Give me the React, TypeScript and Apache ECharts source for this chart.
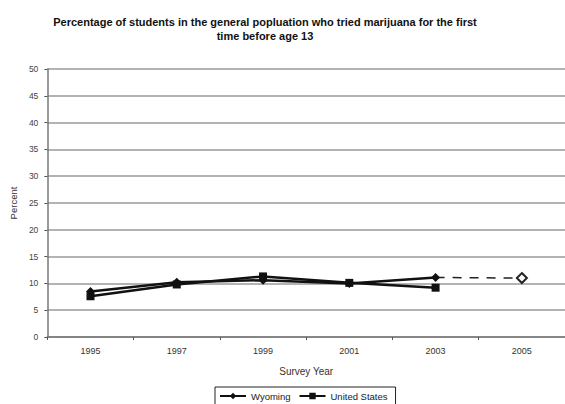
import React, { useEffect, useRef } from "react";
import * as echarts from "echarts";

const years = ["1995", "1997", "1999", "2001", "2003", "2005"];
const wyoming = [8.5, 10.2, 10.6, 10.0, 11.1, null];
const unitedStates = [7.6, 9.8, 11.3, 10.1, 9.2, null];
// 2005 projection for Wyoming, continuing from the 2003 value
const wyomingProjection = [null, null, null, null, 11.1, 11.0];

const FONT = "'Liberation Sans', Arial, sans-serif";

export default function App() {
  const ref = useRef<HTMLDivElement>(null);

  useEffect(() => {
    if (!ref.current) return;
    const chart = echarts.init(ref.current, null, { renderer: "svg" });
    chart.setOption({
      animation: false,
      backgroundColor: "#ffffff",
      title: {
        text: "Percentage of students in the general popluation who tried marijuana for the first\ntime before age 13",
        left: 260,
        textAlign: "center",
        top: 10,
        textStyle: {
          fontFamily: FONT,
          fontSize: 11,
          fontWeight: "bold",
          color: "#111",
          lineHeight: 14,
        },
      },
      legend: {
        data: ["Wyoming", "United States"],
        left: 215,
        top: 387,
        itemWidth: 26,
        itemHeight: 8,
        itemGap: 8,
        padding: [4, 8, 4, 4],
        borderColor: "#222",
        borderWidth: 1,
        textStyle: { fontFamily: FONT, fontSize: 9.5, color: "#222" },
      },
      grid: { left: 44, right: -2, top: 69, bottom: 67 },
      xAxis: {
        type: "category",
        data: years,
        boundaryGap: true,
        name: "Survey Year",
        nameLocation: "middle",
        nameGap: 29,
        nameTextStyle: { fontFamily: FONT, fontSize: 10, color: "#333" },
        axisLine: { lineStyle: { color: "#777", width: 1.5 } },
        axisTick: { show: true, length: 3, lineStyle: { color: "#555" } },
        axisLabel: { fontFamily: FONT, fontSize: 9, color: "#333", margin: 9 },
        splitLine: { show: false },
      },
      yAxis: {
        type: "value",
        min: 0,
        max: 50,
        interval: 5,
        name: "Percent",
        nameLocation: "middle",
        nameGap: 29,
        nameRotate: 90,
        nameTextStyle: { fontFamily: FONT, fontSize: 9.5, color: "#333" },
        axisLine: { show: true, lineStyle: { color: "#777", width: 1.5 } },
        axisTick: { show: true, length: 3, lineStyle: { color: "#555" } },
        axisLabel: { fontFamily: FONT, fontSize: 8.5, color: "#444", margin: 9 },
        splitLine: { show: true, lineStyle: { color: "#9a9a9a", width: 1.5 } },
      },
      series: [
        {
          name: "Wyoming",
          type: "line",
          data: wyoming,
          symbol: "diamond",
          symbolSize: 9,
          itemStyle: { color: "#111" },
          lineStyle: { color: "#111", width: 2.5 },
          z: 3,
        },
        {
          name: "United States",
          type: "line",
          data: unitedStates,
          symbol: "rect",
          symbolSize: 8,
          itemStyle: { color: "#111" },
          lineStyle: { color: "#111", width: 2.5 },
          z: 3,
        },
        {
          name: "Wyoming 2005",
          type: "line",
          data: wyomingProjection.map((v, i) =>
            i === 4 ? { value: v, symbolSize: 0 } : v
          ),
          symbol: "emptyDiamond",
          symbolSize: 10,
          itemStyle: { color: "#222", borderColor: "#222", borderWidth: 1 },
          lineStyle: { color: "#222", width: 1.5, type: [9, 8] },
          z: 2,
        },
      ],
    });
    return () => chart.dispose();
  }, []);

  return <div ref={ref} style={{ width: 565, height: 404, position: "absolute", left: 0, top: 0 }} />;
}
